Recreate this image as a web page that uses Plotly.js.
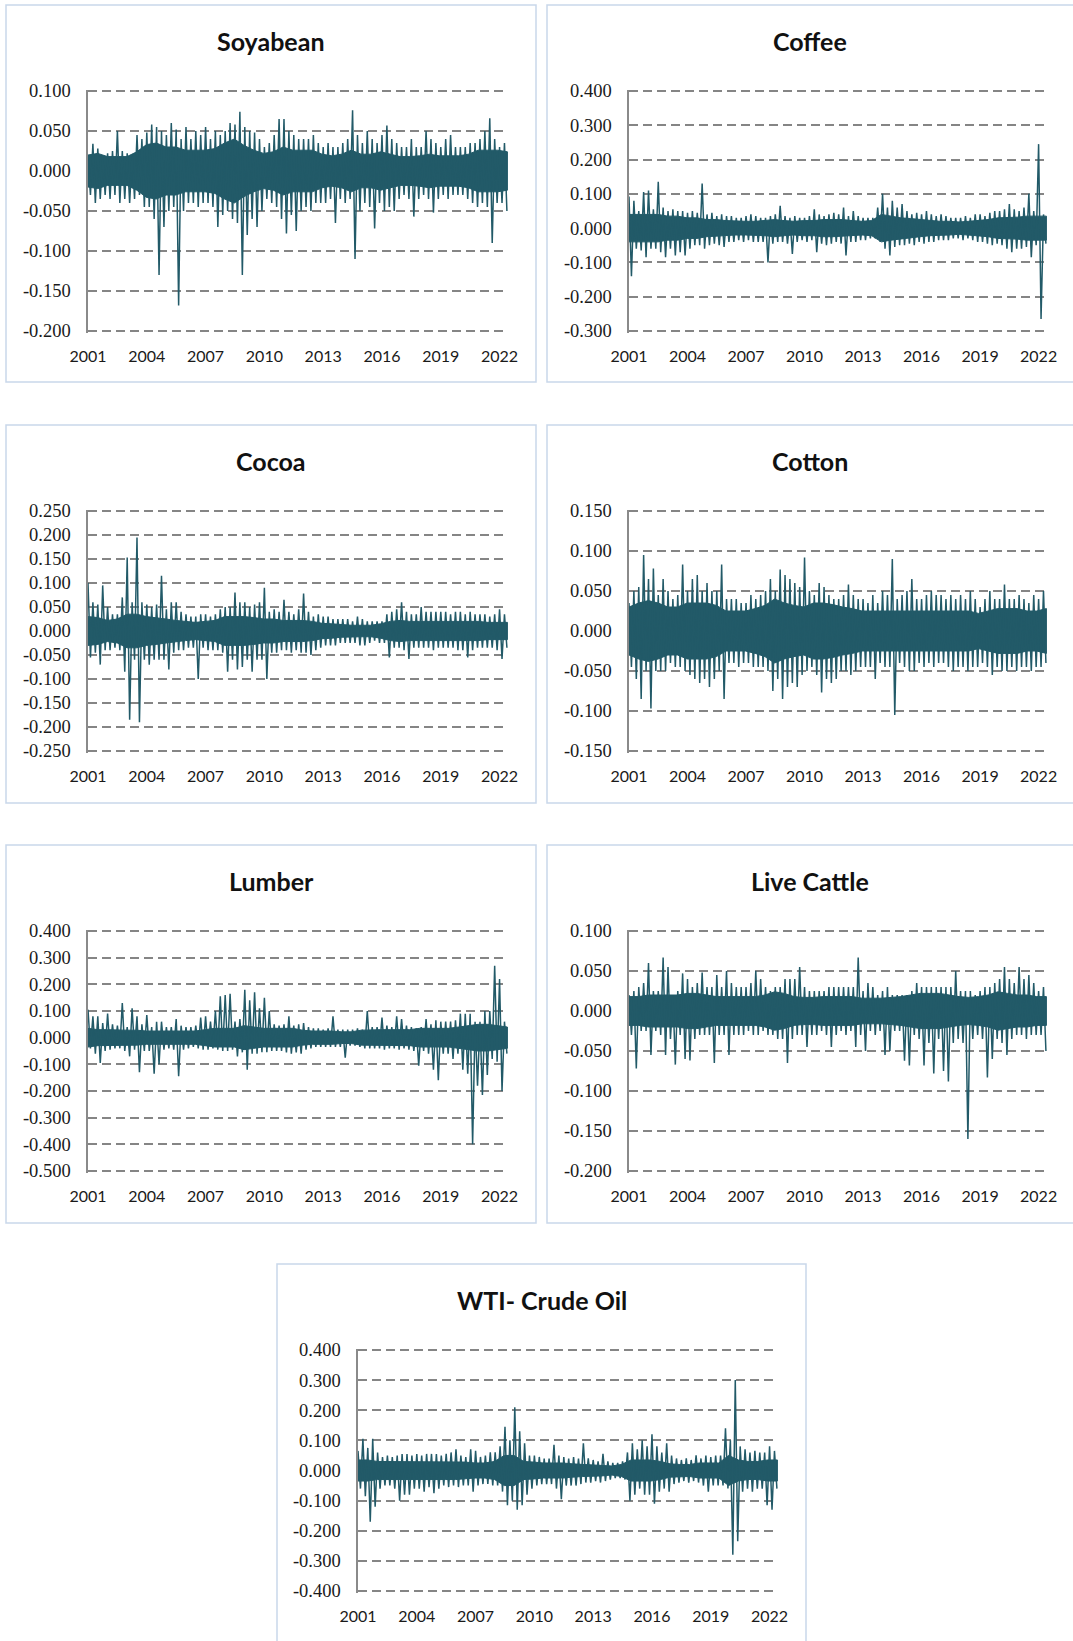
<!DOCTYPE html>
<html>
<head>
<meta charset="utf-8">
<script src="https://cdn.plot.ly/plotly-3.0.1.min.js"></script>
<style>html,body{margin:0;padding:0;background:#fff}#chart{width:1073px;height:1641px}</style>
</head>
<body>
<div id="chart"></div>
<script>
// ---------- shared axis data ----------
const yearTicks = [2001, 2004, 2007, 2010, 2013, 2016, 2019, 2022];
const yearLabels = ["2001", "2004", "2007", "2010", "2013", "2016", "2019", "2022"];
const firstYear = 2001, lastTime = 2022.4;   // data span (decimal years)

// ---------- Soyabean (quarterly extremes, semi-annual dense band) ----------
const soyHi = [0.015,0.034,0.028,0.020, 0.022,0.025,0.050,0.025, 0.022,0.020,0.045,0.040, 0.048,0.058,0.055,0.050,
  0.045,0.060,0.052,0.040, 0.055,0.040,0.050,0.045, 0.055,0.040,0.050,0.045, 0.050,0.060,0.058,0.074,
  0.055,0.050,0.048,0.040, 0.030,0.035,0.045,0.065, 0.065,0.050,0.045,0.040, 0.040,0.040,0.045,0.035,
  0.030,0.035,0.030,0.030, 0.035,0.040,0.076,0.045, 0.035,0.050,0.040,0.035, 0.045,0.057,0.040,0.035,
  0.030,0.030,0.040,0.030, 0.030,0.050,0.040,0.035, 0.030,0.040,0.045,0.030, 0.030,0.030,0.035,0.035,
  0.040,0.050,0.066,0.040, 0.030,0.035];
const soyLo = [-0.030,-0.040,-0.035,-0.030, -0.035,-0.030,-0.040,-0.035, -0.040,-0.035,-0.030,-0.045, -0.045,-0.060,-0.130,-0.070,
  -0.050,-0.045,-0.168,-0.050, -0.040,-0.040,-0.045,-0.040, -0.040,-0.045,-0.070,-0.055, -0.050,-0.060,-0.065,-0.130,
  -0.080,-0.060,-0.070,-0.050, -0.035,-0.040,-0.045,-0.060, -0.078,-0.055,-0.075,-0.050, -0.045,-0.050,-0.040,-0.040,
  -0.040,-0.035,-0.065,-0.035, -0.040,-0.035,-0.110,-0.050, -0.040,-0.045,-0.072,-0.040, -0.050,-0.045,-0.050,-0.035,
  -0.030,-0.035,-0.057,-0.035, -0.030,-0.035,-0.052,-0.035, -0.030,-0.035,-0.030,-0.030, -0.030,-0.035,-0.040,-0.045,
  -0.040,-0.045,-0.090,-0.040, -0.040,-0.050];
const soyCore = [0.020,0.022, 0.018,0.018, 0.018,0.024, 0.033,0.035, 0.030,0.030, 0.026,0.026, 0.026,0.028, 0.035,0.040,
  0.032,0.026, 0.022,0.024, 0.030,0.026, 0.026,0.026, 0.021,0.019, 0.021,0.026, 0.021,0.021, 0.024,0.021,
  0.018,0.018, 0.019,0.021, 0.019,0.019, 0.019,0.021, 0.026,0.026, 0.026,0.024];
const soyTicks = [0.1, 0.05, 0, -0.05, -0.1, -0.15, -0.2];
const soyLabels = ["0.100", "0.050", "0.000", "-0.050", "-0.100", "-0.150", "-0.200"];

// ---------- Coffee ----------
const coffeeHi = [0.092,0.080,0.050,0.105, 0.110,0.055,0.135,0.060, 0.050,0.055,0.050,0.050, 0.045,0.050,0.045,0.130,
  0.040,0.045,0.035,0.040, 0.035,0.035,0.030,0.030, 0.035,0.040,0.035,0.030, 0.030,0.035,0.040,0.065,
  0.035,0.030,0.035,0.030, 0.030,0.035,0.055,0.040, 0.035,0.040,0.045,0.040, 0.060,0.035,0.050,0.035,
  0.030,0.030,0.030,0.060, 0.100,0.060,0.080,0.060, 0.070,0.050,0.040,0.045, 0.040,0.050,0.040,0.035,
  0.040,0.035,0.030,0.030, 0.030,0.035,0.030,0.040, 0.040,0.035,0.045,0.050, 0.050,0.055,0.070,0.055,
  0.050,0.060,0.100,0.050, 0.245,0.040];
const coffeeLo = [-0.140,-0.060,-0.065,-0.085, -0.060,-0.060,-0.070,-0.085, -0.060,-0.080,-0.070,-0.080, -0.060,-0.050,-0.050,-0.060,
  -0.050,-0.045,-0.050,-0.055, -0.040,-0.040,-0.035,-0.040, -0.035,-0.040,-0.040,-0.040, -0.100,-0.045,-0.040,-0.040,
  -0.045,-0.075,-0.040,-0.035, -0.040,-0.035,-0.070,-0.045, -0.050,-0.045,-0.040,-0.045, -0.080,-0.040,-0.040,-0.035,
  -0.035,-0.030,-0.030,-0.040, -0.060,-0.080,-0.055,-0.050, -0.050,-0.045,-0.050,-0.040, -0.045,-0.040,-0.040,-0.035,
  -0.035,-0.035,-0.030,-0.030, -0.035,-0.030,-0.035,-0.040, -0.040,-0.045,-0.050,-0.045, -0.050,-0.060,-0.070,-0.060,
  -0.060,-0.055,-0.085,-0.050, -0.265,-0.045];
const coffeeCore = [0.040,0.040, 0.040,0.040, 0.035,0.035, 0.030,0.030, 0.025,0.025, 0.022,0.020, 0.020,0.020, 0.022,0.025,
  0.022,0.020, 0.022,0.022, 0.025,0.025, 0.025,0.022, 0.020,0.022, 0.040,0.035, 0.030,0.028, 0.025,0.022,
  0.020,0.020, 0.018,0.020, 0.022,0.025, 0.030,0.030, 0.032,0.035, 0.035,0.035];
const coffeeTicks = [0.4, 0.3, 0.2, 0.1, 0, -0.1, -0.2, -0.3];
const coffeeLabels = ["0.400", "0.300", "0.200", "0.100", "0.000", "-0.100", "-0.200", "-0.300"];

// ---------- Cocoa ----------
const cocoaHi = [0.100,0.060,0.055,0.095, 0.050,0.035,0.035,0.070, 0.153,0.060,0.195,0.060, 0.055,0.050,0.055,0.115,
  0.045,0.060,0.060,0.040, 0.035,0.030,0.030,0.035, 0.035,0.030,0.035,0.045, 0.050,0.050,0.080,0.060,
  0.060,0.050,0.055,0.060, 0.090,0.040,0.045,0.040, 0.065,0.040,0.035,0.045, 0.078,0.040,0.030,0.035,
  0.030,0.030,0.025,0.025, 0.025,0.025,0.020,0.030, 0.025,0.020,0.020,0.020, 0.020,0.035,0.040,0.045,
  0.060,0.040,0.035,0.035, 0.050,0.040,0.040,0.040, 0.040,0.040,0.035,0.040, 0.040,0.035,0.040,0.035,
  0.035,0.035,0.030,0.035, 0.045,0.035];
const cocoaLo = [-0.055,-0.045,-0.070,-0.040, -0.040,-0.035,-0.040,-0.085, -0.185,-0.060,-0.190,-0.060, -0.070,-0.060,-0.060,-0.060,
  -0.080,-0.045,-0.040,-0.040, -0.035,-0.035,-0.100,-0.035, -0.040,-0.040,-0.040,-0.045, -0.085,-0.060,-0.080,-0.075,
  -0.060,-0.085,-0.060,-0.060, -0.100,-0.045,-0.045,-0.040, -0.040,-0.045,-0.040,-0.045, -0.045,-0.050,-0.040,-0.035,
  -0.030,-0.030,-0.030,-0.025, -0.025,-0.025,-0.025,-0.030, -0.030,-0.025,-0.020,-0.025, -0.025,-0.055,-0.035,-0.035,
  -0.040,-0.058,-0.035,-0.035, -0.035,-0.035,-0.040,-0.035, -0.035,-0.035,-0.035,-0.040, -0.040,-0.055,-0.040,-0.035,
  -0.035,-0.035,-0.035,-0.040, -0.058,-0.035];
const cocoaCore = [0.030,0.028, 0.022,0.025, 0.035,0.035, 0.030,0.028, 0.025,0.022, 0.020,0.018, 0.020,0.022, 0.030,0.030,
  0.030,0.028, 0.025,0.025, 0.022,0.022, 0.022,0.020, 0.016,0.015, 0.013,0.012, 0.012,0.012, 0.015,0.020,
  0.022,0.020, 0.020,0.020, 0.020,0.020, 0.020,0.020, 0.020,0.018, 0.018,0.018];
const cocoaTicks = [0.25, 0.2, 0.15, 0.1, 0.05, 0, -0.05, -0.1, -0.15, -0.2, -0.25];
const cocoaLabels = ["0.250", "0.200", "0.150", "0.100", "0.050", "0.000", "-0.050", "-0.100", "-0.150", "-0.200", "-0.250"];

// ---------- Cotton ----------
const cottonHi = [0.035,0.050,0.055,0.095, 0.065,0.078,0.045,0.065, 0.050,0.040,0.045,0.083, 0.050,0.065,0.070,0.050,
  0.060,0.050,0.050,0.083, 0.040,0.040,0.040,0.035, 0.035,0.045,0.040,0.045, 0.050,0.065,0.050,0.077,
  0.070,0.065,0.060,0.055, 0.092,0.050,0.045,0.060, 0.055,0.045,0.040,0.040, 0.045,0.058,0.045,0.040,
  0.040,0.035,0.045,0.035, 0.050,0.045,0.090,0.040, 0.045,0.050,0.065,0.040, 0.040,0.045,0.050,0.045,
  0.045,0.040,0.045,0.040, 0.045,0.040,0.050,0.040, 0.030,0.040,0.050,0.040, 0.040,0.058,0.040,0.040,
  0.045,0.040,0.035,0.045, 0.040,0.050];
const cottonLo = [-0.045,-0.060,-0.085,-0.050, -0.097,-0.050,-0.050,-0.050, -0.040,-0.045,-0.045,-0.050, -0.055,-0.060,-0.065,-0.060,
  -0.070,-0.060,-0.050,-0.085, -0.040,-0.040,-0.045,-0.040, -0.040,-0.045,-0.045,-0.045, -0.050,-0.075,-0.060,-0.085,
  -0.070,-0.065,-0.070,-0.055, -0.050,-0.045,-0.055,-0.077, -0.060,-0.065,-0.060,-0.050, -0.050,-0.055,-0.050,-0.045,
  -0.045,-0.045,-0.060,-0.040, -0.045,-0.045,-0.105,-0.040, -0.045,-0.050,-0.050,-0.040, -0.045,-0.040,-0.045,-0.040,
  -0.040,-0.045,-0.050,-0.045, -0.045,-0.050,-0.045,-0.045, -0.040,-0.045,-0.055,-0.045, -0.050,-0.050,-0.045,-0.050,
  -0.045,-0.045,-0.050,-0.045, -0.045,-0.040];
const cottonCore = [0.030,0.035, 0.038,0.035, 0.030,0.030, 0.035,0.035, 0.035,0.032, 0.025,0.025, 0.025,0.028, 0.032,0.040,
  0.035,0.032, 0.030,0.035, 0.035,0.033, 0.030,0.028, 0.025,0.025, 0.025,0.025, 0.025,0.025, 0.025,0.025,
  0.025,0.025, 0.025,0.025, 0.022,0.025, 0.028,0.028, 0.028,0.025, 0.025,0.028];
const cottonTicks = [0.15, 0.1, 0.05, 0, -0.05, -0.1, -0.15];
const cottonLabels = ["0.150", "0.100", "0.050", "0.000", "-0.050", "-0.100", "-0.150"];

// ---------- Lumber ----------
const lumberHi = [0.105,0.080,0.080,0.055, 0.090,0.050,0.045,0.130, 0.040,0.110,0.080,0.050, 0.085,0.040,0.060,0.060,
  0.040,0.040,0.070,0.045, 0.040,0.040,0.045,0.075, 0.080,0.060,0.100,0.155, 0.160,0.165,0.060,0.070,
  0.180,0.140,0.170,0.110, 0.150,0.100,0.050,0.045, 0.050,0.080,0.045,0.050, 0.055,0.040,0.035,0.035,
  0.030,0.035,0.080,0.030, 0.030,0.030,0.030,0.035, 0.030,0.100,0.040,0.040, 0.075,0.045,0.040,0.080,
  0.070,0.045,0.040,0.035, 0.040,0.070,0.050,0.065, 0.060,0.060,0.060,0.065, 0.090,0.090,0.090,0.060,
  0.060,0.100,0.100,0.270, 0.220,0.060];
const lumberLo = [-0.040,-0.060,-0.095,-0.050, -0.045,-0.040,-0.040,-0.050, -0.070,-0.045,-0.130,-0.050, -0.050,-0.135,-0.100,-0.045,
  -0.040,-0.045,-0.145,-0.045, -0.040,-0.035,-0.040,-0.045, -0.045,-0.040,-0.045,-0.050, -0.050,-0.045,-0.070,-0.055,
  -0.120,-0.060,-0.060,-0.055, -0.055,-0.050,-0.050,-0.050, -0.055,-0.060,-0.055,-0.060, -0.045,-0.040,-0.035,-0.035,
  -0.035,-0.035,-0.035,-0.035, -0.075,-0.030,-0.030,-0.035, -0.040,-0.040,-0.040,-0.040, -0.045,-0.040,-0.040,-0.045,
  -0.040,-0.045,-0.050,-0.105, -0.050,-0.060,-0.120,-0.160, -0.060,-0.060,-0.080,-0.060, -0.120,-0.135,-0.400,-0.180,
  -0.215,-0.140,-0.080,-0.090, -0.200,-0.060];
const lumberCore = [0.035,0.030, 0.030,0.028, 0.028,0.028, 0.025,0.025, 0.025,0.025, 0.025,0.025, 0.030,0.035, 0.035,0.035,
  0.045,0.040, 0.035,0.035, 0.035,0.035, 0.028,0.025, 0.025,0.025, 0.022,0.022, 0.028,0.030, 0.030,0.030,
  0.030,0.030, 0.035,0.035, 0.035,0.035, 0.040,0.045, 0.050,0.050, 0.045,0.040];
const lumberTicks = [0.4, 0.3, 0.2, 0.1, 0, -0.1, -0.2, -0.3, -0.4, -0.5];
const lumberLabels = ["0.400", "0.300", "0.200", "0.100", "0.000", "-0.100", "-0.200", "-0.300", "-0.400", "-0.500"];

// ---------- Live Cattle ----------
const cattleHi = [0.020,0.025,0.030,0.035, 0.060,0.025,0.025,0.067, 0.055,0.020,0.025,0.047, 0.040,0.030,0.035,0.048,
  0.030,0.030,0.045,0.030, 0.050,0.035,0.030,0.030, 0.030,0.035,0.050,0.040, 0.030,0.025,0.030,0.030,
  0.040,0.040,0.040,0.055, 0.030,0.025,0.025,0.025, 0.025,0.030,0.030,0.030, 0.030,0.030,0.030,0.067,
  0.025,0.035,0.030,0.020, 0.025,0.030,0.020,0.020, 0.020,0.020,0.025,0.035, 0.030,0.030,0.030,0.030,
  0.030,0.030,0.030,0.050, 0.025,0.025,0.025,0.020, 0.025,0.030,0.030,0.035, 0.040,0.055,0.040,0.035,
  0.055,0.040,0.045,0.035, 0.025,0.030];
const cattleLo = [-0.030,-0.072,-0.025,-0.025, -0.055,-0.025,-0.030,-0.055, -0.035,-0.067,-0.030,-0.060, -0.062,-0.035,-0.030,-0.030,
  -0.030,-0.065,-0.030,-0.030, -0.055,-0.030,-0.030,-0.030, -0.025,-0.030,-0.030,-0.025, -0.030,-0.030,-0.035,-0.035,
  -0.065,-0.035,-0.030,-0.030, -0.045,-0.030,-0.030,-0.025, -0.030,-0.045,-0.030,-0.025, -0.030,-0.025,-0.045,-0.030,
  -0.050,-0.025,-0.030,-0.025, -0.055,-0.050,-0.025,-0.025, -0.062,-0.068,-0.030,-0.035, -0.068,-0.040,-0.078,-0.035,
  -0.075,-0.088,-0.040,-0.035, -0.040,-0.160,-0.035,-0.030, -0.035,-0.083,-0.060,-0.035, -0.040,-0.055,-0.035,-0.030,
  -0.030,-0.035,-0.030,-0.030, -0.030,-0.050];
const cattleCore = [0.018,0.018, 0.020,0.020, 0.020,0.020, 0.022,0.022, 0.020,0.018, 0.018,0.018, 0.018,0.018, 0.020,0.024,
  0.022,0.018, 0.017,0.017, 0.018,0.018, 0.018,0.018, 0.016,0.016, 0.016,0.017, 0.018,0.020, 0.022,0.022,
  0.022,0.020, 0.018,0.017, 0.018,0.020, 0.024,0.022, 0.020,0.020, 0.018,0.018];
const cattleTicks = [0.1, 0.05, 0, -0.05, -0.1, -0.15, -0.2];
const cattleLabels = ["0.100", "0.050", "0.000", "-0.050", "-0.100", "-0.150", "-0.200"];

// ---------- WTI- Crude Oil ----------
const wtiHi = [0.065,0.105,0.075,0.105, 0.060,0.045,0.050,0.045, 0.050,0.055,0.055,0.050, 0.055,0.050,0.055,0.055,
  0.055,0.050,0.055,0.060, 0.070,0.050,0.045,0.070, 0.065,0.045,0.050,0.060, 0.060,0.080,0.145,0.100,
  0.210,0.130,0.090,0.050, 0.050,0.045,0.040,0.040, 0.085,0.050,0.045,0.040, 0.045,0.040,0.090,0.040,
  0.035,0.030,0.055,0.030, 0.025,0.025,0.030,0.060, 0.090,0.070,0.100,0.080, 0.120,0.080,0.060,0.090,
  0.050,0.040,0.035,0.040, 0.035,0.050,0.040,0.050, 0.045,0.050,0.050,0.140, 0.100,0.300,0.080,0.070,
  0.060,0.065,0.060,0.060, 0.080,0.065];
const wtiLo = [-0.060,-0.085,-0.170,-0.120, -0.060,-0.050,-0.050,-0.060, -0.100,-0.080,-0.080,-0.060, -0.060,-0.070,-0.055,-0.075,
  -0.060,-0.050,-0.055,-0.050, -0.055,-0.050,-0.050,-0.070, -0.050,-0.045,-0.045,-0.050, -0.050,-0.070,-0.115,-0.100,
  -0.130,-0.115,-0.080,-0.060, -0.050,-0.045,-0.045,-0.045, -0.060,-0.095,-0.050,-0.050, -0.050,-0.045,-0.040,-0.040,
  -0.035,-0.040,-0.035,-0.030, -0.025,-0.025,-0.030,-0.100, -0.080,-0.060,-0.080,-0.080, -0.110,-0.070,-0.060,-0.070,
  -0.045,-0.040,-0.035,-0.040, -0.035,-0.040,-0.050,-0.070, -0.050,-0.050,-0.050,-0.060, -0.280,-0.235,-0.070,-0.060,
  -0.070,-0.060,-0.060,-0.115, -0.130,-0.060];
const wtiCore = [0.035,0.035, 0.030,0.030, 0.030,0.030, 0.030,0.030, 0.030,0.030, 0.030,0.028, 0.025,0.025, 0.030,0.050,
  0.050,0.030, 0.028,0.025, 0.025,0.025, 0.022,0.020, 0.018,0.018, 0.015,0.020, 0.035,0.035, 0.035,0.030,
  0.022,0.020, 0.020,0.025, 0.025,0.025, 0.050,0.035, 0.030,0.030, 0.035,0.035];
const wtiTicks = [0.4, 0.3, 0.2, 0.1, 0, -0.1, -0.2, -0.3, -0.4];
const wtiLabels = ["0.400", "0.300", "0.200", "0.100", "0.000", "-0.100", "-0.200", "-0.300", "-0.400"];

// ---------- layout geometry (pixels) ----------
const W = 1073, H = 1641;
const LINE = "#225a68";
const panels = [
  {title: "Soyabean",      hi: soyHi,    lo: soyLo,    core: soyCore,    ticks: soyTicks,    labels: soyLabels,    px: [88, 508],   py: [91, 331],    box: [6, 536, 5, 382]},
  {title: "Coffee",        hi: coffeeHi, lo: coffeeLo, core: coffeeCore, ticks: coffeeTicks, labels: coffeeLabels, px: [629, 1047], py: [91, 331],    box: [547, 1078, 5, 382]},
  {title: "Cocoa",         hi: cocoaHi,  lo: cocoaLo,  core: cocoaCore,  ticks: cocoaTicks,  labels: cocoaLabels,  px: [88, 508],   py: [511, 751],   box: [6, 536, 425, 803]},
  {title: "Cotton",        hi: cottonHi, lo: cottonLo, core: cottonCore, ticks: cottonTicks, labels: cottonLabels, px: [629, 1047], py: [511, 751],   box: [547, 1078, 425, 803]},
  {title: "Lumber",        hi: lumberHi, lo: lumberLo, core: lumberCore, ticks: lumberTicks, labels: lumberLabels, px: [88, 508],   py: [931, 1171],  box: [6, 536, 845, 1223]},
  {title: "Live Cattle",   hi: cattleHi, lo: cattleLo, core: cattleCore, ticks: cattleTicks, labels: cattleLabels, px: [629, 1047], py: [931, 1171],  box: [547, 1078, 845, 1223]},
  {title: "WTI- Crude Oil",hi: wtiHi,    lo: wtiLo,    core: wtiCore,    ticks: wtiTicks,    labels: wtiLabels,    px: [358, 778],  py: [1350, 1591], box: [277, 806, 1264, 1660]}
];

const traces = [];
const layout = {
  width: W, height: H,
  margin: {l: 0, r: 0, t: 0, b: 0},
  paper_bgcolor: "#ffffff", plot_bgcolor: "rgba(0,0,0,0)",
  showlegend: false,
  shapes: [], annotations: []
};

panels.forEach((p, k) => {
  const n = k + 1;
  const xa = n === 1 ? "x" : "x" + n, ya = n === 1 ? "y" : "y" + n;
  const xKey = n === 1 ? "xaxis" : "xaxis" + n, yKey = n === 1 ? "yaxis" : "yaxis" + n;

  // dense band
  const coreX = p.core.map((_, i) => firstYear + i * (lastTime - firstYear) / (p.core.length - 1));
  traces.push({
    type: "scatter", mode: "lines", xaxis: xa, yaxis: ya, hoverinfo: "skip",
    x: coreX.concat(coreX.slice().reverse()),
    y: p.core.concat(p.core.slice().reverse().map(v => -v)),
    fill: "toself", fillcolor: LINE, line: {color: LINE, width: 1}
  });
  // extremes, alternating high / low within each quarter
  const zx = [], zy = [];
  p.hi.forEach((h, i) => {
    const t = firstYear + i * 0.25;
    zx.push(t); zy.push(h);
    zx.push(t + 0.125); zy.push(p.lo[i]);
  });
  traces.push({
    type: "scatter", mode: "lines", xaxis: xa, yaxis: ya, hoverinfo: "skip",
    x: zx, y: zy, line: {color: LINE, width: 1.5}
  });

  layout[xKey] = {
    domain: [p.px[0] / W, p.px[1] / W], anchor: ya,
    range: [2001, 2022.43], tickmode: "array", tickvals: yearTicks, ticktext: yearLabels,
    showgrid: false, zeroline: false, showline: false,
    ticks: "outside", ticklen: 9, tickcolor: "rgba(0,0,0,0)",
    tickfont: {family: "Lato, Open Sans, sans-serif", size: 16, color: "#1a1a1a"}
  };
  const ymax = p.ticks[0], ymin = p.ticks[p.ticks.length - 1];
  const pad = (ymax - ymin) * 1.5 / (p.py[1] - p.py[0]);
  layout[yKey] = {
    domain: [1 - (p.py[1] + 1.5) / H, 1 - (p.py[0] - 1.5) / H], anchor: xa,
    range: [ymin - pad, ymax + pad], tickmode: "array", tickvals: p.ticks, ticktext: p.labels,
    showgrid: true, gridcolor: "#858585", gridwidth: 2, griddash: "9px,5px",
    zeroline: false, showline: true, linecolor: "#8a8a8a", linewidth: 1.6,
    ticks: "outside", ticklen: 12, tickcolor: "rgba(0,0,0,0)",
    tickfont: {family: "Liberation Serif, Times New Roman, serif", size: 18.5, color: "#1a1a1a"}
  };

  // panel frame
  layout.shapes.push({
    type: "rect", xref: "paper", yref: "paper", layer: "below",
    x0: p.box[0] / W, x1: p.box[1] / W, y0: 1 - p.box[3] / H, y1: 1 - p.box[2] / H,
    line: {color: "#c9d7ea", width: 1.5}, fillcolor: "rgba(0,0,0,0)"
  });
  // panel title
  layout.annotations.push({
    xref: "paper", yref: "paper", x: (p.box[0] + Math.min(p.box[1], 1073)) / 2 / W, y: 1 - (p.py[0] - 50) / H,
    xanchor: "center", yanchor: "middle", showarrow: false,
    text: "<b>" + p.title + "</b>",
    font: {family: "Lato, Open Sans, sans-serif", size: 25, color: "#111111"}
  });
});
Plotly.newPlot("chart", traces, layout, {staticPlot: true, displayModeBar: false});
</script>
</body>
</html>
